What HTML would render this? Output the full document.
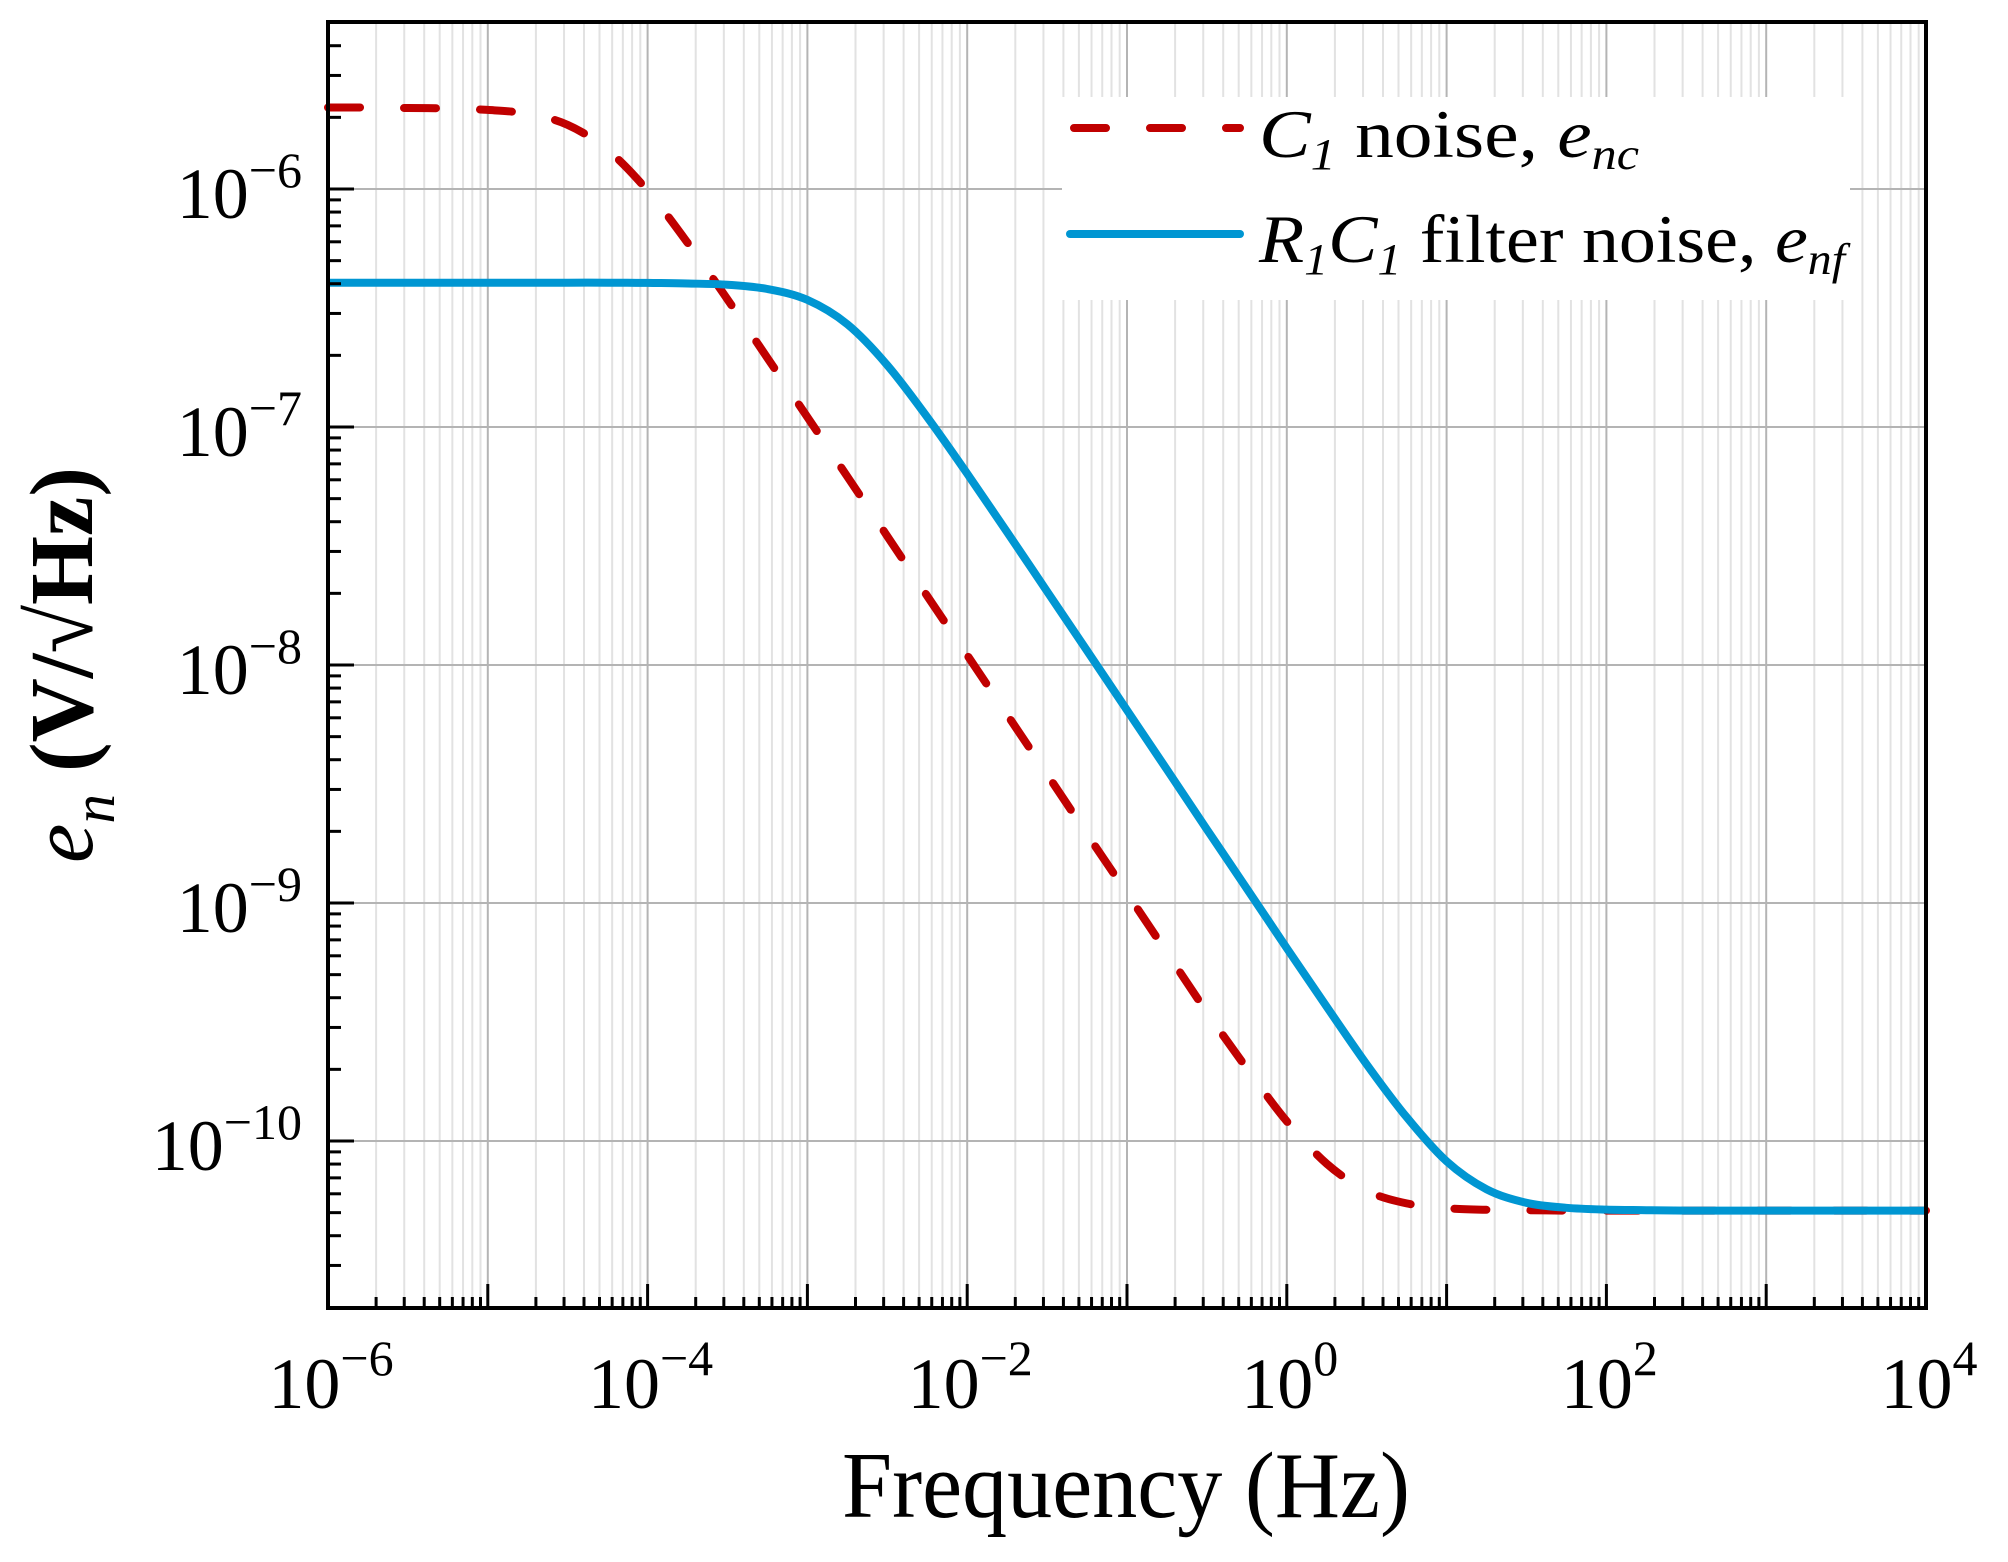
<!DOCTYPE html>
<html><head><meta charset="utf-8"><style>
html,body{margin:0;padding:0;background:#fff;}
svg{display:block;font-family:"Liberation Serif",serif;}
</style></head><body>
<svg id="chart" width="2008" height="1562" viewBox="0 0 2008 1562" xmlns="http://www.w3.org/2000/svg">
<g id="grid"></g>
<g id="series"></g>
<g id="legend">
  <rect x="1062" y="97" width="788" height="203" fill="#fff"/>
  <line x1="1074" y1="128" x2="1240" y2="128" stroke="#c00000" stroke-width="8" stroke-dasharray="32 44" stroke-linecap="round"/>
  <text x="1259" y="157" font-size="68" textLength="380" lengthAdjust="spacingAndGlyphs"><tspan font-style="italic">C</tspan><tspan font-style="italic" font-size="44" dy="12">1</tspan><tspan dy="-12"> noise, </tspan><tspan font-style="italic">e</tspan><tspan font-style="italic" font-size="44" dy="12">nc</tspan></text>
  <line x1="1070" y1="234" x2="1240" y2="234" stroke="#0096d2" stroke-width="8" stroke-linecap="round"/>
  <text x="1259" y="262" font-size="68" textLength="586" lengthAdjust="spacingAndGlyphs"><tspan font-style="italic">R</tspan><tspan font-style="italic" font-size="44" dy="12">1</tspan><tspan font-style="italic" dy="-12">C</tspan><tspan font-style="italic" font-size="44" dy="12">1</tspan><tspan dy="-12"> filter noise, </tspan><tspan font-style="italic">e</tspan><tspan font-style="italic" font-size="44" dy="12">nf</tspan></text>
</g>
<g id="axes"></g>
<text x="1126" y="1517" font-size="94" text-anchor="middle" textLength="568" lengthAdjust="spacingAndGlyphs">Frequency (Hz)</text>
<text transform="translate(92,863) rotate(-90)" x="0" y="0" font-size="90" textLength="396" lengthAdjust="spacingAndGlyphs"><tspan font-style="italic">e</tspan><tspan font-style="italic" font-size="60" dy="22">n</tspan><tspan dy="-22" font-weight="bold"> (V/√Hz)</tspan></text>
</svg>
<script>
const freqs = [1e-6,1.78e-6,3.16e-6,5.62e-6,1e-5,1.78e-5,3.16e-5,5.62e-5,1e-4,1.78e-4,3.16e-4,5.62e-4,1e-3,1.78e-3,3.16e-3,5.62e-3,1e-2,1.78e-2,3.16e-2,5.62e-2,1e-1,0.178,0.316,0.562,1,1.78,3.16,5.62,10,17.8,31.6,56.2,100,178,316,562,1000,1780,3160,5620,10000];
const c1Noise = [2.20e-6,2.20e-6,2.19e-6,2.18e-6,2.15e-6,2.07e-6,1.86e-6,1.46e-6,9.84e-7,5.94e-7,3.44e-7,1.95e-7,1.10e-7,6.18e-8,3.48e-8,1.95e-8,1.10e-8,6.18e-9,3.48e-9,1.95e-9,1.10e-9,6.18e-10,3.48e-10,2.02e-10,1.21e-10,8.02e-11,6.18e-11,5.47e-11,5.22e-11,5.14e-11,5.12e-11,5.10e-11,5.10e-11,5.10e-11,5.10e-11,5.10e-11,5.10e-11,5.10e-11,5.10e-11,5.10e-11,5.10e-11];
const filterNoise = [4.04e-7,4.04e-7,4.04e-7,4.04e-7,4.04e-7,4.04e-7,4.04e-7,4.04e-7,4.03e-7,4.01e-7,3.96e-7,3.80e-7,3.42e-7,2.70e-7,1.82e-7,1.10e-7,6.37e-8,3.61e-8,2.04e-8,1.15e-8,6.46e-9,3.63e-9,2.04e-9,1.15e-9,6.46e-10,3.66e-10,2.10e-10,1.26e-10,8.22e-11,6.27e-11,5.50e-11,5.24e-11,5.15e-11,5.12e-11,5.10e-11,5.10e-11,5.10e-11,5.10e-11,5.10e-11,5.10e-11,5.10e-11];
const xTickExps = [-6,-4,-2,0,2,4];
const xTickLabels = ["−6","−4","−2","0","2","4"];
const yTickExps = [-6,-7,-8,-9,-10];
const yTickLabels = ["−6","−7","−8","−9","−10"];

const NS = "http://www.w3.org/2000/svg";
const L = 328, R = 1926, T = 22, B = 1308;
const xMin = -6, xMax = 4;
const yRef = -6, yRefPx = 189, yDec = 238;
function xs(f){ return L + (Math.log10(f) - xMin) / (xMax - xMin) * (R - L); }
function ys(v){ return yRefPx - (Math.log10(v) - yRef) * yDec; }
function mk(tag, attrs, parent){ const e = document.createElementNS(NS, tag); for (const k in attrs) e.setAttribute(k, attrs[k]); parent.appendChild(e); return e; }
const grid = document.getElementById('grid'), axes = document.getElementById('axes'), series = document.getElementById('series');

for (let d = xMin; d <= xMax; d++) {
  for (let m = 1; m <= 9; m++) {
    if (d === xMax && m > 1) break;
    const x = xs(m * Math.pow(10, d));
    const major = m === 1;
    const g = mk('line', {x1:x, y1:T, x2:x, y2:B, stroke: major ? '#b4b4b4' : '#e2e2e2', 'stroke-width': 2}, grid);
    
    
    const t = mk('line', {x1:x, y1:B, x2:x, y2:B - (major ? 24 : 11), stroke:'#000', 'stroke-width': 3}, axes);
    
    
  }
}
for (let d = -11; d <= -5; d++) {
  for (let m = 1; m <= 9; m++) {
    const v = m * Math.pow(10, d);
    const y = ys(v);
    if (y < T + 2 || y > B - 2) continue;
    const major = m === 1;
    if (major) {
      const g = mk('line', {x1:L, y1:y, x2:R, y2:y, stroke:'#b4b4b4', 'stroke-width': 2}, grid);
      
      
    }
    const t = mk('line', {x1:L, y1:y, x2:L + (major ? 26 : 13), y2:y, stroke:'#000', 'stroke-width': 3}, axes);
    
    
  }
}
const fr = mk('rect', {x:L, y:T, width:R-L, height:B-T, fill:'none', stroke:'#000', 'stroke-width': 4}, axes);



xTickExps.forEach((e, i) => {
  const x = xs(Math.pow(10, e)) + 3;
  const t = mk('text', {x:x, y:1408, 'font-size':72, 'text-anchor':'middle'}, axes);
  
  
  t.textContent = '10';
  const s = mk('tspan', {dy:-33, 'font-size':50}, t);
  s.textContent = xTickLabels[i];
});
yTickExps.forEach((e, i) => {
  const y = ys(Math.pow(10, e)) + 29;
  const t = mk('text', {x:302, y:y, 'font-size':72, 'text-anchor':'end'}, axes);
  
  
  t.textContent = '10';
  const s = mk('tspan', {dy:-31, 'font-size':50}, t);
  s.textContent = yTickLabels[i];
});

function pathFor(vals){
  const p = freqs.map((f, i) => [xs(f), ys(vals[i])]);
  let d = 'M' + p[0][0].toFixed(1) + ' ' + p[0][1].toFixed(1);
  for (let i = 0; i < p.length - 1; i++) {
    const p0 = p[Math.max(0, i - 1)], p1 = p[i], p2 = p[i + 1], p3 = p[Math.min(p.length - 1, i + 2)];
    const c1x = p1[0] + (p2[0] - p0[0]) / 6, c1y = p1[1] + (p2[1] - p0[1]) / 6;
    const c2x = p2[0] - (p3[0] - p1[0]) / 6, c2y = p2[1] - (p3[1] - p1[1]) / 6;
    d += ' C' + c1x.toFixed(1) + ' ' + c1y.toFixed(1) + ' ' + c2x.toFixed(1) + ' ' + c2y.toFixed(1) + ' ' + p2[0].toFixed(1) + ' ' + p2[1].toFixed(1);
  }
  return d;
}
const red = mk('path', {d: pathFor(c1Noise), fill:'none', stroke:'#c00000', 'stroke-width':8, 'stroke-dasharray':'32 44', 'stroke-linecap':'round', 'stroke-linejoin':'round'}, series);


const blue = mk('path', {d: pathFor(filterNoise), fill:'none', stroke:'#0096d2', 'stroke-width':8, 'stroke-linejoin':'round'}, series);


</script>
</body></html>
